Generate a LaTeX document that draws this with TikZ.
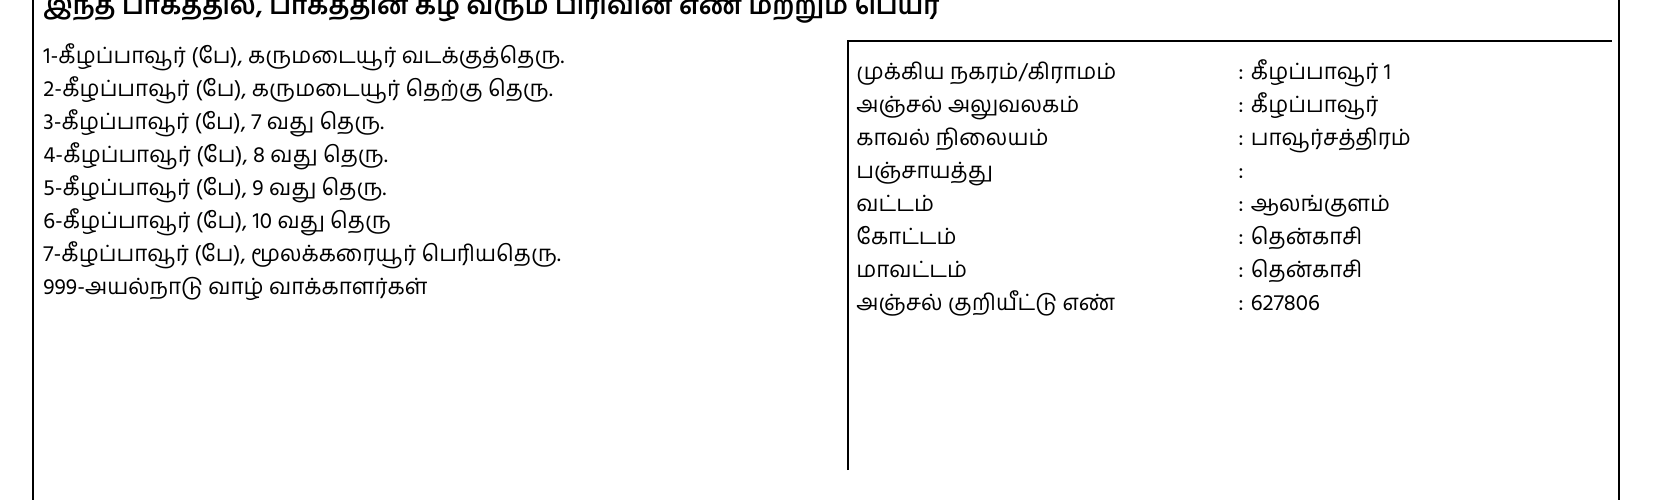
\documentclass[tikz,border=0pt]{standalone}
\usepackage{fontspec}
\setmainfont[Script=Tamil]{Hind Madurai}
\usepackage{tikz}

\begin{document}
\begin{tikzpicture}[x=0.5pt, y=-0.5pt,
    txt/.style={anchor=base west, inner sep=0pt, font=\fontsize{11.2}{13}\selectfont},
    head/.style={anchor=base west, inner sep=0pt, font=\fontsize{13}{15}\selectfont\bfseries},
    frame/.style={line width=1pt, draw=black}]

            \useasboundingbox (0,0) rectangle (1653,500);

            \draw[frame] (33,0) -- (33,500);
            \draw[frame] (1619,0) -- (1619,500);
            \draw[frame] (848,470) -- (848,41) -- (1612,41);

            \node[head] (title) at (43,14) {இந்த பாகத்தில், பாகத்தின் கீழ் வரும் பிரிவின் எண் மற்றும் பெயர்};

            \node[txt] (p1) at (43,63)  {1-கீழப்பாவூர் (பே), கருமடையூர் வடக்குத்தெரு.};
            \node[txt] (p2) at (43,96)  {2-கீழப்பாவூர் (பே), கருமடையூர் தெற்கு தெரு.};
            \node[txt] (p3) at (43,129) {3-கீழப்பாவூர் (பே), 7 வது தெரு.};
            \node[txt] (p4) at (43,162) {4-கீழப்பாவூர் (பே), 8 வது தெரு.};
            \node[txt] (p5) at (43,195) {5-கீழப்பாவூர் (பே), 9 வது தெரு.};
            \node[txt] (p6) at (43,228) {6-கீழப்பாவூர் (பே), 10 வது தெரு};
            \node[txt] (p7) at (43,261) {7-கீழப்பாவூர் (பே), மூலக்கரையூர் பெரியதெரு.};
            \node[txt] (p8) at (43,294) {999-அயல்நாடு வாழ் வாக்காளர்கள்};

            \node[txt] (k1) at (856,79)  {முக்கிய நகரம்/கிராமம்};
            \node[txt] (k2) at (856,112) {அஞ்சல் அலுவலகம்};
            \node[txt] (k3) at (856,145) {காவல் நிலையம்};
            \node[txt] (k4) at (856,178) {பஞ்சாயத்து};
            \node[txt] (k5) at (856,211) {வட்டம்};
            \node[txt] (k6) at (856,244) {கோட்டம்};
            \node[txt] (k7) at (856,277) {மாவட்டம்};
            \node[txt] (k8) at (856,310) {அஞ்சல் குறியீட்டு எண்};

            \node[txt] (v1) at (1238,79)  {: கீழப்பாவூர் 1};
            \node[txt] (v2) at (1238,112) {: கீழப்பாவூர்};
            \node[txt] (v3) at (1238,145) {: பாவூர்சத்திரம்};
            \node[txt] (v4) at (1238,178) {:};
            \node[txt] (v5) at (1238,211) {: ஆலங்குளம்};
            \node[txt] (v6) at (1238,244) {: தென்காசி};
            \node[txt] (v7) at (1238,277) {: தென்காசி};
            \node[txt] (v8) at (1238,310) {: 627806};

        \end{tikzpicture}
\end{document}
